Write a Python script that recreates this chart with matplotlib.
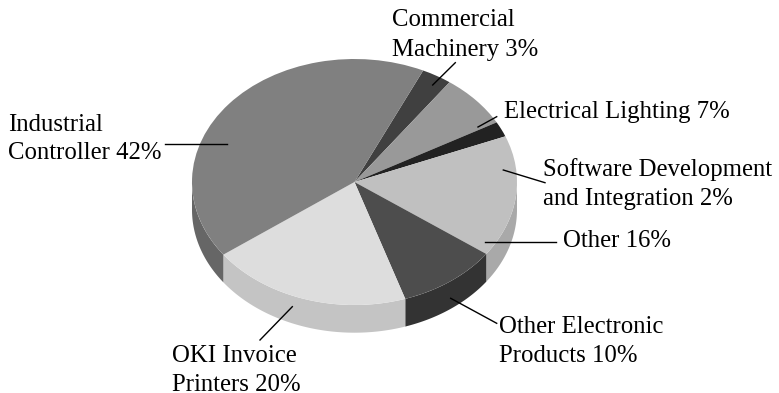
import matplotlib
matplotlib.use("Agg")
import matplotlib.pyplot as plt
from matplotlib.lines import Line2D
import numpy as np

W, H = 779, 393

categories = ["Commercial Machinery", "Electrical Lighting", "Software Development and Integration",
              "Other", "Other Electronic Products", "OKI Invoice Printers", "Industrial Controller"]
shares = [3, 7, 2, 16, 10, 20, 42]
top_colors = ["#404040", "#999999", "#222222", "#c0c0c0", "#4d4d4d", "#dddddd", "#808080"]
side_colors = ["#2d2d2d", "#7f7f7f", "#111111", "#a9a9a9", "#333333", "#c4c4c4", "#666666"]
start_angle = 65

# label lines: text, x, baseline y (pixels from the top)
label_lines = [
    ("Commercial", 391.5, 26), ("Machinery 3%", 391.5, 55.7),
    ("Electrical Lighting 7%", 504, 117.7),
    ("Software Development", 542.7, 176), ("and Integration 2%", 542.7, 205),
    ("Other 16%", 562.7, 247),
    ("Other Electronic", 499, 332.7), ("Products 10%", 499, 362),
    ("OKI Invoice", 172.5, 362), ("Printers 20%", 172.5, 390.7),
    ("Industrial", 8, 130.7), ("Controller 42%", 8, 159.3),
]
# leader lines in pixels from the top
leaders = [
    ((455.3, 62.7), (432.7, 85)),
    ((496.7, 116.7), (478, 127)),
    ((545, 182.7), (503.3, 170)),
    ((556, 241.7), (485, 241.7)),
    ((496.7, 323.3), (450.7, 298.3)),
    ((260, 340), (292.3, 306.7)),
    ((165, 143.7), (226.7, 143.7)),
]

fig = plt.figure(figsize=(W / 100, H / 100), dpi=100)
ax = fig.add_axes([192 / W, 1 - 305 / H, 325 / W, 246 / H])
ax.axis("off")

depth = 2 * 27.7 / 246
# Rim of the disc: only the part of each slice that faces the viewer
edges = start_angle - np.cumsum([0] + shares) * 3.6
for a0, a1, c in zip(edges[:-1], edges[1:], side_colors):
    hi = min(a0, 0.0)
    lo = max(a1, -180.0)
    if hi <= lo:
        continue
    t = np.radians(np.linspace(hi, lo, 80))
    x, y = np.cos(t), np.sin(t)
    ax.fill(np.r_[x, x[::-1]], np.r_[y, y[::-1] - depth], color=c, lw=0, clip_on=False)

ax.pie(shares, colors=top_colors, startangle=start_angle, counterclock=False,
       wedgeprops=dict(linewidth=0, clip_on=False))
ax.set_aspect("auto")
ax.set_xlim(-1, 1)
ax.set_ylim(-1, 1)

for (x0, y0), (x1, y1) in leaders:
    fig.add_artist(Line2D([x0 / W, x1 / W], [1 - y0 / H, 1 - y1 / H], color="black", lw=1.0))
for s, x, y in label_lines:
    fig.text(x / W, 1 - y / H, s, family="Liberation Serif", fontsize=17.8, color="black",
             ha="left", va="baseline")

fig.savefig("out.png", dpi=100, facecolor="white")
